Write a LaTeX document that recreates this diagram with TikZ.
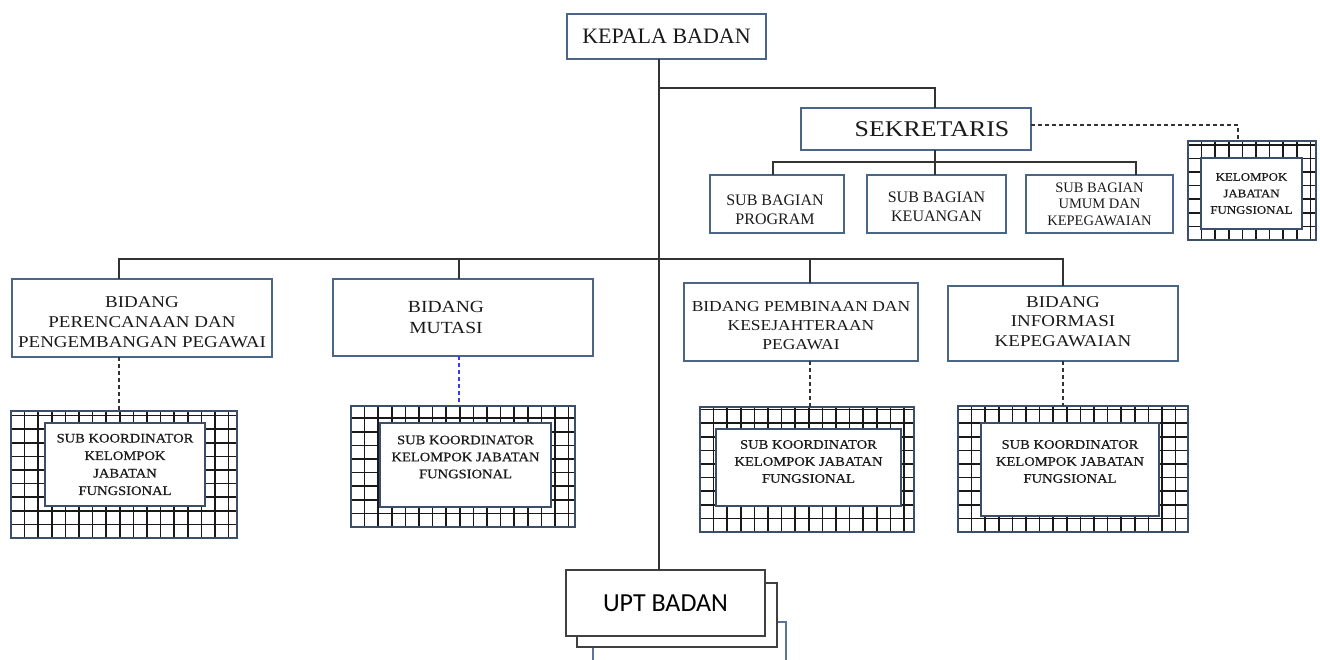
\documentclass[tikz,border=0pt]{standalone}
\usepackage{fontspec}
\setmainfont{Liberation Serif}
\newfontfamily\widefont[FakeStretch=1.15]{Liberation Serif}
\newfontfamily\hatchfont[FakeStretch=1.12,FakeBold=0.5]{Liberation Serif}
\newfontfamily\uptfont{Carlito}
\definecolor{bcol}{HTML}{4A6585}
\definecolor{hcol}{HTML}{3B4F6B}
\definecolor{lcol}{HTML}{333333}
\definecolor{tcol}{HTML}{1A1A1A}
\definecolor{blued}{HTML}{3A3AF0}
\definecolor{uptblue}{HTML}{5A7598}
\tikzset{
  box/.style={draw=bcol, line width=1.5pt, fill=white, inner sep=0pt, outer sep=0pt, align=center, text=tcol},
  txt/.style={inner sep=0pt, outer sep=0pt, align=center, text=tcol},
  hatchbox/.style={draw=hcol, line width=1.8pt, inner sep=0pt, outer sep=0pt},
  gridline/.style={draw=black!90, line width=1.6pt},
  conn/.style={draw=lcol, line width=1.4pt},
  dconn/.style={conn, dash pattern=on 4pt off 3pt},
  uptbox/.style={draw=black!75, line width=1.5pt, fill=white, inner sep=0pt, outer sep=0pt},
}
% box with its text offset from the centre by (#8)
\newcommand\mkbox[9][]{%
  \node[box,minimum width={(#5-#3)*1pt},minimum height={(#6-#4)*1pt},#1] (#2) at ({(#3+#5)/2},{(#4+#6)/2}) {};
  \node[txt,#7] (#2-t) at ([shift={(#8)}]#2.center) {#9};}
\newcommand\mkhatch[5]{%
  \begin{scope}
    \clip (#2,#3) rectangle (#4,#5);
    \fill[white] (#2,#3) rectangle (#4,#5);
    \draw[gridline, shift={(#2,#5)}] (0,0) grid[step=13.6pt] ({#4-#2},{-(#5-#3)});
  \end{scope}
  \node[hatchbox,minimum width={(#4-#2)*1pt},minimum height={(#5-#3)*1pt}] (#1) at ({(#2+#4)/2},{(#3+#5)/2}) {};}
\begin{document}
\begin{tikzpicture}[x=1pt,y=-1pt]
\useasboundingbox (0,0) rectangle (1320,660);
\fill[white] (0,0) rectangle (1320,660);

% top
\mkbox{kb}{567}{14}{766}{59}{font=\fontsize{22}{25}\selectfont}{0,0}{KEPALA BADAN}
\mkbox{sek}{801}{108}{1031}{150}{font=\widefont\fontsize{22.5}{25}\selectfont}{16,0}{SEKRETARIS}

% sub bagian
\mkbox{prog}{710}{175}{844}{233}{font=\fontsize{16}{19}\selectfont}{-2,6}{SUB BAGIAN\\PROGRAM}
\mkbox{keu}{867}{175}{1006}{233}{font=\fontsize{16}{19}\selectfont}{0,3}{SUB BAGIAN\\KEUANGAN}
\mkbox{umum}{1026}{175}{1173}{233}{font=\fontsize{14.5}{16.5}\selectfont}{0,0}{SUB BAGIAN\\UMUM DAN\\KEPEGAWAIAN}

% kelompok jabatan fungsional (sekretaris)
\mkhatch{kjfo}{1188}{141}{1316}{240}
\mkbox[draw=hcol]{kjf}{1201}{158}{1302}{229}{font=\hatchfont\fontsize{11.5}{16.5}\selectfont}{0,0}{KELOMPOK\\JABATAN\\FUNGSIONAL}

% bidang
\mkbox{bpp}{12}{279}{272}{357}{font=\widefont\fontsize{16.5}{20}\selectfont}{0,4}{BIDANG\\PERENCANAAN DAN\\PENGEMBANGAN PEGAWAI}
\mkbox{bm}{333}{279}{593}{356}{font=\widefont\fontsize{17}{21}\selectfont}{-17,0}{BIDANG\\MUTASI}
\mkbox{bpk}{684}{283}{918}{361}{font=\widefont\fontsize{15.2}{19}\selectfont}{0,4}{BIDANG PEMBINAAN DAN\\KESEJAHTERAAN\\PEGAWAI}
\mkbox{bik}{948}{286}{1178}{361}{font=\widefont\fontsize{16.5}{19.5}\selectfont}{0,-2}{BIDANG\\INFORMASI\\KEPEGAWAIAN}

% sub koordinator
\mkhatch{h1}{11}{411}{237}{538}
\mkbox[draw=hcol]{s1}{45}{423}{205}{506}{font=\hatchfont\fontsize{13}{17.5}\selectfont}{0,0}{SUB KOORDINATOR\\KELOMPOK\\JABATAN\\FUNGSIONAL}
\mkhatch{h2}{351}{406}{575}{527}
\mkbox[draw=hcol]{s2}{380}{423}{551}{507}{font=\hatchfont\fontsize{13}{17}\selectfont}{0,-8}{SUB KOORDINATOR\\KELOMPOK JABATAN\\FUNGSIONAL}
\mkhatch{h3}{700}{407}{914}{532}
\mkbox[draw=hcol]{s3}{716}{429}{901}{506}{font=\hatchfont\fontsize{13}{17}\selectfont}{0,-6}{SUB KOORDINATOR\\KELOMPOK JABATAN\\FUNGSIONAL}
\mkhatch{h4}{958}{406}{1188}{532}
\mkbox[draw=hcol]{s4}{981}{423}{1159}{516}{font=\hatchfont\fontsize{13}{17}\selectfont}{0,-8}{SUB KOORDINATOR\\KELOMPOK JABATAN\\FUNGSIONAL}

% UPT
\node[uptbox,draw=uptblue,minimum width=193pt,minimum height=80pt] (upt3) at (689.5,662) {};
\node[uptbox,minimum width=200pt,minimum height=64pt] (upt2) at (677,615) {};
\node[uptbox,minimum width=199pt,minimum height=66pt,font=\uptfont\fontsize{26}{30}\selectfont,text=black] (upt) at (665.5,603) {UPT BADAN};

% coordinates
\coordinate (spine) at (659,88);
\coordinate (jsek) at (935,88);
\coordinate (jsb) at (935,162);
\coordinate (dprog) at (773,162);
\coordinate (dumum) at (1136,162);
\coordinate (d1) at (119,259);
\coordinate (d2) at (459,259);
\coordinate (d3) at (810,259);
\coordinate (d4) at (1063,259);
\coordinate (kjx) at (1238,125);

% connectors
\draw[conn] (kb.south -| spine) -- (upt.north -| spine);
\draw[conn] (spine) -- (jsek) -- (jsek |- sek.north);
\draw[conn] (sek.south -| jsb) -- (jsb |- keu.north);
\draw[conn] (dprog |- prog.north) -- (dprog) -- (dumum) -- (dumum |- umum.north);
\draw[conn] (d1 |- bpp.north) -- (d1) -- (d4) -- (d4 |- bik.north);
\draw[conn] (d2) -- (d2 |- bm.north);
\draw[conn] (d3) -- (d3 |- bpk.north);
\draw[dconn] (sek.east |- kjx) -- (kjx) -- (kjx |- kjfo.north);
\draw[dconn] (d1 |- bpp.south) -- (d1 |- h1.north);
\draw[dconn,draw=blued] (d2 |- bm.south) -- (d2 |- h2.north);
\draw[dconn] (d3 |- bpk.south) -- (d3 |- h3.north);
\draw[dconn] (d4 |- bik.south) -- (d4 |- h4.north);
\end{tikzpicture}
\end{document}
